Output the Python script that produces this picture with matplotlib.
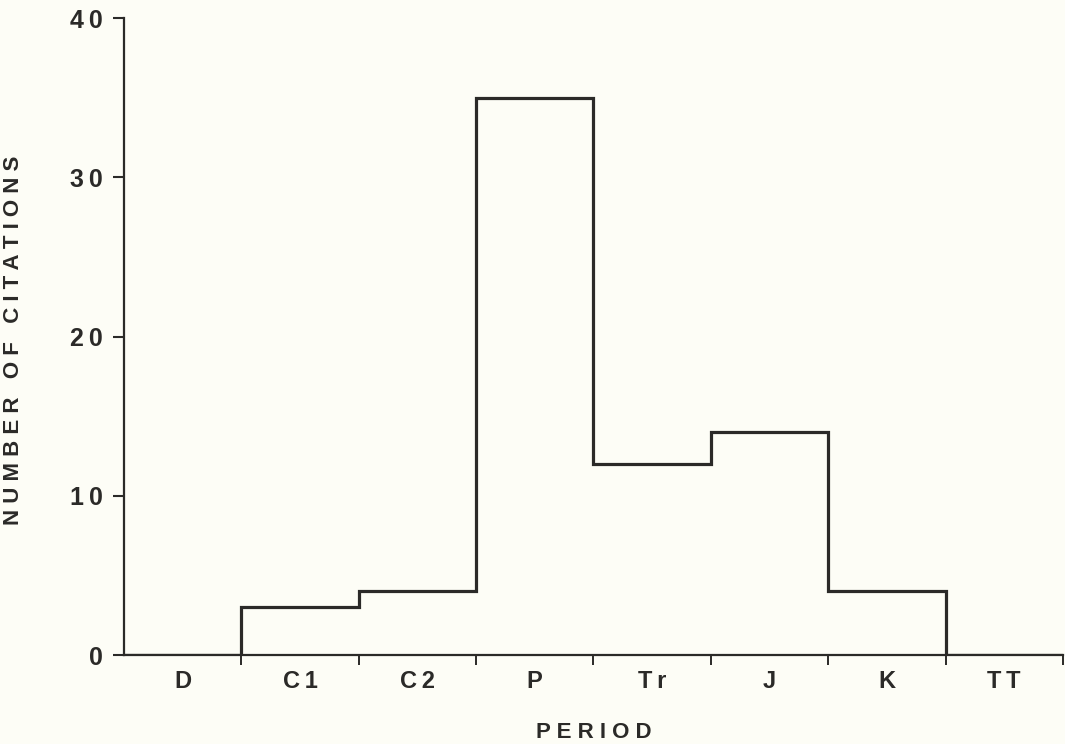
import numpy as np
import matplotlib.pyplot as plt

periods = ["D", "C1", "C2", "P", "Tr", "J", "K", "TT"]
citations = [0, 3, 4, 35, 12, 14, 4, 0]
yticks = [0, 10, 20, 30, 40]

ink = "#2b2a28"
paper = "#fdfdf6"
plt.rcParams["font.family"] = ["Liberation Sans", "DejaVu Sans"]
plt.rcParams["font.weight"] = "bold"


def track(s, gap="\u2009"):
    # old typewriter-ish letter spacing
    return gap.join(s)


fig = plt.figure(figsize=(10.65, 7.44), dpi=100, facecolor=paper)
ax = fig.add_axes([0.1164, 0.1196, 0.8816, 0.8562], facecolor=paper)

edges = np.arange(len(periods) + 1)
ax.stairs(citations, edges, color=ink, linewidth=2.3, baseline=0)

ax.set_xlim(0, len(periods))
ax.set_ylim(0, 40)

for s in ["top", "right"]:
    ax.spines[s].set_visible(False)
for s in ["left", "bottom"]:
    ax.spines[s].set_color(ink)
    ax.spines[s].set_linewidth(1.6)

ax.set_yticks(yticks)
ax.set_yticklabels([track(str(v)) for v in yticks], fontsize=18, fontweight="bold", color=ink)
ax.tick_params(axis="y", direction="out", length=8, width=1.5, color=ink, pad=7)

ax.set_xticks(edges[1:])
ax.set_xticklabels([])
ax.tick_params(axis="x", which="major", direction="out", length=7, width=1.4, color=ink)
ax.set_xticks(edges[:-1] + 0.5, minor=True)
ax.set_xticklabels([track(p) for p in periods], minor=True, fontsize=17, fontweight="bold", color=ink)
ax.tick_params(axis="x", which="minor", length=0, pad=11)

ax.set_xlabel(track("PERIOD", " "), fontsize=16, fontweight="bold", color=ink)
ax.xaxis.set_label_coords(0.5, -0.105)
ax.set_ylabel("   ".join(track(w, " ") for w in "NUMBER OF CITATIONS".split()),
              fontsize=16, fontweight="bold", color=ink)
ax.yaxis.set_label_coords(-0.106, 0.494)

fig.savefig("out.png", dpi=100, facecolor=paper)
